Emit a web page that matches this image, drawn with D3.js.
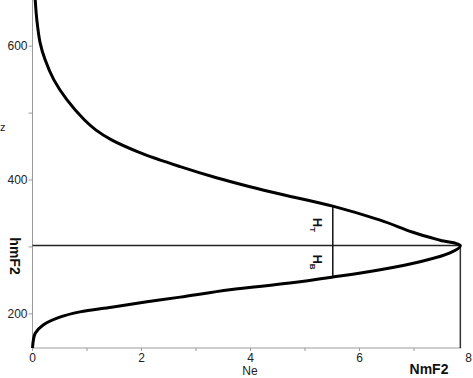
<!DOCTYPE html>
<html><head><meta charset="utf-8">
<script src="https://cdn.jsdelivr.net/npm/d3@7"></script>
<style>body{margin:0;background:#fff}svg{display:block}text{font-family:"Liberation Sans",Arial,sans-serif}</style>
</head><body><svg id="c" width="473" height="378"></svg>
<script>
// Electron density profile: Ne (x) vs altitude z (y)
const neValues = [0.00,0.05,0.19,0.50,0.87,1.45,2.10,2.71,3.62,4.72,5.51,6.38,7.11,7.66,7.85,7.48,6.98,6.38,5.51,4.60,3.99,3.39,2.71,1.97,1.45,1.16,0.95,0.63,0.39,0.23,0.14,0.08,0.05];
const zValues  = [149,171,183,195,203,210,218,225,236,246,255,266,278,291,302,310,322,340,361,378,390,403,420,441,460,475,490,520,550,580,605,639,669];
const xTicks = [0,2,4,6,8];
const xMinorTicks = [1,3,5,7];
const yTicks = [200,400,600];
const yMinorTicks = [300,500];
const nmF2 = 7.85, hmF2 = 302;
const hLineNe = 5.51, hTop = 361, hBottom = 255;

const svg = d3.select("#c");
const x = d3.scaleLinear().domain([0,8]).range([32.5,468.5]);
const y = d3.scaleLinear().domain([149,669]).range([348,0]);
const axisCol = "#9a9a9a";

// axes lines
svg.append("line").attr("x1",x(0)).attr("x2",x(0)).attr("y1",y(149)).attr("y2",0).attr("stroke",axisCol).attr("stroke-width",1);
svg.append("line").attr("x1",x(0)).attr("x2",x(nmF2)+1).attr("y1",y(149)).attr("y2",y(149)).attr("stroke",axisCol).attr("stroke-width",1);

// y ticks
svg.selectAll(".yt").data(yTicks.concat(yMinorTicks)).join("line")
  .attr("x1",x(0)-4).attr("x2",x(0)).attr("y1",d=>y(d)).attr("y2",d=>y(d)).attr("stroke",axisCol);
svg.selectAll(".yl").data(yTicks).join("text")
  .attr("x",x(0)-5).attr("y",d=>y(d)).attr("dy","0.35em").attr("text-anchor","end")
  .attr("font-size",12).attr("fill","#222").text(d=>d);
// x ticks
svg.selectAll(".xt").data(xTicks.concat(xMinorTicks).filter(d=>d<nmF2)).join("line")
  .attr("x1",d=>x(d)).attr("x2",d=>x(d)).attr("y1",y(149)).attr("y2",y(149)+3).attr("stroke",axisCol);
svg.selectAll(".xl").data(xTicks).join("text")
  .attr("x",d=>x(d)).attr("y",358).attr("dy","0.35em").attr("text-anchor","middle")
  .attr("font-size",12).attr("fill","#222").text(d=>d);

// labels
svg.append("text").attr("x",250).attr("y",371).attr("dy","0.35em").attr("text-anchor","middle").attr("font-size",12).attr("fill","#222").text("Ne");
svg.append("text").attr("x",429).attr("y",369).attr("dy","0.35em").attr("text-anchor","middle").attr("font-size",14).attr("font-weight","bold").attr("fill","#111").text("NmF2");
svg.append("text").attr("transform","translate(10,256) rotate(90)").attr("text-anchor","middle").attr("font-size",14).attr("font-weight","bold").attr("fill","#111").text("hmF2");
svg.append("text").attr("x",0).attr("y",131).attr("font-size",11).attr("fill","#222").text("z");

// hmF2 horizontal line
svg.append("line").attr("x1",x(0)).attr("x2",x(nmF2)).attr("y1",y(hmF2)).attr("y2",y(hmF2)).attr("stroke","#222").attr("stroke-width",1.5);
// NmF2 vertical line
svg.append("line").attr("x1",x(nmF2)).attr("x2",x(nmF2)).attr("y1",y(hmF2)).attr("y2",y(149)).attr("stroke","#333").attr("stroke-width",1.5);
// H line
svg.append("line").attr("x1",x(hLineNe)).attr("x2",x(hLineNe)).attr("y1",y(hTop)).attr("y2",y(hBottom)).attr("stroke","#111").attr("stroke-width",1.5);

function hLabel(cx, cy, sub){
  const t = svg.append("text").attr("transform",`translate(${cx},${cy}) rotate(90)`)
    .attr("text-anchor","middle").attr("font-size",13).attr("font-weight","bold").attr("fill","#111");
  t.append("tspan").text("H");
  t.append("tspan").attr("dy",3).attr("font-size",8).text(sub);
}
hLabel(313, 225, "T");
hLabel(313, 262, "B");

// profile curve
const pts = neValues.map((v,i)=>[v,zValues[i]]);
svg.append("path").datum(pts)
  .attr("d",d3.line().x(d=>x(d[0])).y(d=>y(d[1])).curve(d3.curveCatmullRom.alpha(0.5)))
  .attr("fill","none").attr("stroke","#000").attr("stroke-width",3);
</script></body></html>
